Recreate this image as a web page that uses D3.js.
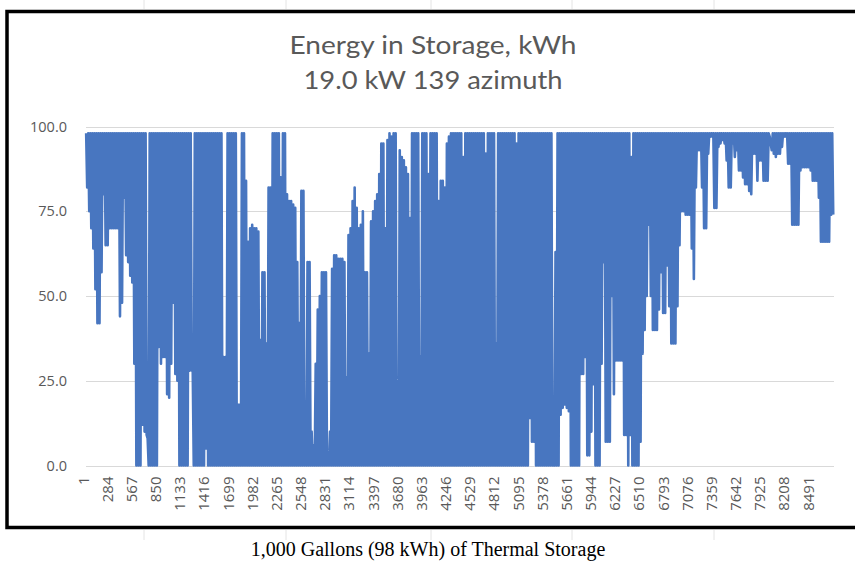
<!DOCTYPE html>
<html>
<head>
<meta charset="utf-8">
<script src="https://cdn.jsdelivr.net/npm/d3@7"></script>
<style>
  html, body { margin: 0; padding: 0; background: #ffffff; }
  svg { display: block; }
</style>
</head>
<body>
<svg id="chart" width="855" height="562"></svg>
<script>
// Hourly simulation, one year (8760 h), storage holds up to 98 kWh.
// Each day is summarised by its lowest and highest energy in storage (kWh).
const minKwh = [
  82, 75, 70, 64, 52, 42, 42, 57, 80, 65,
  65, 70, 70, 70, 70, 70, 44, 48, 79, 62,
  60, 56, 54, 30, 0, 0, 0, 12, 10, 9,
  0, 0, 0, 0, 0, 35, 30, 32, 32, 21,
  20, 30, 48, 27, 25, 0, 0, 0, 0, 0,
  28, 28, 0, 0, 0, 0, 0, 0, 5, 0,
  0, 0, 0, 0, 0, 0, 0, 0, 0, 0,
  0, 0, 0, 0, 0, 0, 0, 0, 0, 0,
  0, 0, 0, 0, 0, 0, 0, 0, 0, 0,
  0, 0, 0, 0, 0, 0, 0, 0, 0, 0,
  0, 0, 0, 0, 0, 0, 0, 0, 0, 0,
  0, 0, 0, 0, 0, 0, 0, 0, 0, 0,
  0, 0, 0, 0, 0, 0, 0, 0, 0, 0,
  0, 0, 0, 0, 0, 0, 0, 0, 0, 0,
  0, 0, 0, 0, 0, 0, 0, 0, 0, 0,
  0, 0, 0, 0, 0, 0, 0, 0, 0, 0,
  0, 0, 0, 0, 0, 0, 0, 0, 0, 0,
  0, 0, 0, 0, 0, 0, 0, 0, 0, 0,
  0, 0, 0, 0, 0, 0, 0, 0, 0, 0,
  0, 0, 0, 0, 0, 0, 0, 0, 0, 0,
  0, 0, 0, 0, 0, 0, 0, 0, 0, 0,
  0, 0, 0, 0, 0, 0, 14, 7, 7, 0,
  0, 0, 0, 0, 0, 0, 0, 0, 0, 0,
  0, 15, 17, 18, 17, 16, 0, 0, 0, 0,
  0, 27, 27, 32, 3, 3, 10, 24, 0, 0,
  0, 30, 60, 7, 7, 7, 50, 21, 31, 31,
  31, 31, 9, 9, 0, 9, 0, 0, 0, 0,
  7, 33, 40, 50, 71, 50, 40, 40, 40, 46,
  57, 45, 45, 59, 47, 36, 36, 36, 47, 65,
  75, 75, 74, 74, 74, 64, 55, 82, 93, 93,
  82, 70, 70, 92, 97, 97, 76, 76, 94, 95,
  96, 95, 90, 82, 82, 95, 91, 93, 87, 87,
  85, 83, 83, 81, 80, 92, 92, 84, 90, 90,
  84, 84, 84, 97, 93, 92, 91, 92, 92, 94,
  97, 97, 89, 89, 71, 71, 71, 71, 87, 88,
  88, 88, 88, 87, 84, 84, 84, 79, 66, 66,
  66, 66, 66, 74, 74
];

const maxKwh = [
  98, 98, 98, 98, 98, 98, 98, 98, 98, 98,
  98, 98, 98, 98, 98, 98, 98, 98, 98, 98,
  98, 98, 98, 98, 98, 98, 98, 98, 98, 98,
  8, 98, 98, 98, 98, 98, 98, 98, 98, 98,
  98, 98, 98, 98, 98, 98, 98, 98, 98, 98,
  98, 98, 28, 98, 98, 98, 98, 98, 98, 98,
  98, 98, 98, 98, 98, 98, 98, 32, 32, 98,
  98, 98, 98, 98, 18, 18, 98, 98, 84, 66,
  70, 71, 70, 70, 69, 37, 57, 57, 36, 82,
  82, 98, 98, 98, 98, 85, 98, 98, 80, 78,
  78, 77, 76, 60, 42, 81, 81, 5, 60, 60,
  10, 6, 30, 46, 50, 57, 57, 57, 2, 10,
  58, 62, 62, 61, 61, 61, 60, 26, 68, 70,
  78, 82, 76, 70, 71, 75, 57, 57, 33, 72,
  75, 78, 80, 86, 95, 95, 70, 96, 98, 97,
  98, 98, 3, 93, 91, 90, 88, 86, 73, 98,
  98, 98, 98, 32, 98, 98, 98, 86, 98, 98,
  98, 98, 78, 84, 84, 82, 95, 97, 98, 98,
  98, 98, 98, 98, 91, 98, 98, 98, 98, 98,
  98, 98, 98, 98, 98, 92, 98, 98, 98, 98,
  36, 98, 98, 98, 98, 98, 98, 98, 98, 98,
  95, 98, 98, 98, 98, 98, 98, 98, 98, 98,
  98, 98, 98, 98, 98, 98, 98, 98, 3, 63,
  98, 98, 98, 98, 98, 98, 98, 98, 98, 98,
  98, 98, 98, 98, 98, 98, 98, 98, 98, 98,
  98, 98, 98, 98, 98, 98, 98, 98, 98, 98,
  98, 98, 98, 98, 98, 98, 91, 98, 98, 98,
  98, 98, 98, 98, 98, 98, 98, 98, 98, 98,
  98, 98, 98, 98, 98, 98, 98, 98, 98, 98,
  98, 98, 98, 98, 98, 98, 98, 98, 98, 98,
  98, 98, 98, 98, 98, 98, 98, 98, 98, 98,
  98, 98, 98, 98, 98, 98, 98, 98, 98, 98,
  98, 98, 98, 98, 98, 98, 98, 98, 98, 98,
  98, 98, 98, 98, 95, 98, 98, 98, 98, 98,
  98, 98, 98, 98, 98, 98, 98, 98, 98, 98,
  98, 98, 98, 98, 98, 98, 98, 98, 98, 98,
  98, 98, 98, 98, 98
];

// Hour-of-year category labels shown on the x axis (every 283rd hour)
const hourLabels = [1, 284, 567, 850, 1133, 1416, 1699, 1982, 2265, 2548, 2831,
  3114, 3397, 3680, 3963, 4246, 4529, 4812, 5095, 5378, 5661, 5944, 6227,
  6510, 6793, 7076, 7359, 7642, 7925, 8208, 8491];
const valueTicks = [0, 25, 50, 75, 100];

const titleLines = ["Energy in Storage, kWh", "19.0 kW 139 azimuth"];
const caption = "1,000 Gallons (98 kWh) of Thermal Storage";

// Build the hourly trace: highest point in the afternoon, lowest overnight
const series = [];
minKwh.forEach((lo, d) => {
  series.push({ hour: d * 24 + 3, kwh: maxKwh[d] });
  series.push({ hour: d * 24 + 15, kwh: lo });
});

const svg = d3.select("#chart");
const plot = { left: 86, right: 834, top: 126.5, bottom: 465.5 };

const x = d3.scaleLinear().domain([1, 8760]).range([plot.left, plot.right]);
const y = d3.scaleLinear().domain([0, 100]).range([plot.bottom, plot.top]);

const grey = "#595959";

// faint page rules around the framed chart
const ruleX = [144, 286, 431, 572, 714];
svg.append("g").selectAll("line").data(ruleX).join("line")
  .attr("x1", d => d).attr("x2", d => d).attr("y1", 0).attr("y2", 9)
  .attr("stroke", "#e4e4e4").attr("stroke-width", 1);
svg.append("g").selectAll("line").data(ruleX).join("line")
  .attr("x1", d => d).attr("x2", d => d).attr("y1", 530).attr("y2", 540)
  .attr("stroke", "#e4e4e4").attr("stroke-width", 1);

// horizontal gridlines
svg.append("g").selectAll("line").data(valueTicks).join("line")
  .attr("x1", plot.left).attr("x2", plot.right)
  .attr("y1", d => Math.round(y(d)) + 0.5).attr("y2", d => Math.round(y(d)) + 0.5)
  .attr("stroke", "#d9d9d9").attr("stroke-width", 1);

// value axis labels
const yAxis = d3.axisLeft(y).tickValues(valueTicks).tickFormat(d3.format(".1f")).tickSize(0).tickPadding(0);
const yg = svg.append("g").attr("transform", "translate(67,0)").call(yAxis);
yg.select(".domain").remove();
yg.selectAll("text")
  .attr("fill", grey).attr("font-family", "'Open Sans', sans-serif").attr("font-size", 14.5);

// category axis labels, rotated
const xAxis = d3.axisBottom(x).tickValues(hourLabels).tickFormat(d3.format("d")).tickSize(0).tickPadding(0);
const xg = svg.append("g").attr("transform", `translate(0,${plot.bottom})`).call(xAxis);
xg.select(".domain").remove();
xg.selectAll("text")
  .attr("fill", grey).attr("font-family", "'Open Sans', sans-serif").attr("font-size", 15)
  .attr("text-anchor", "end").attr("dy", null).attr("y", null)
  .attr("dominant-baseline", "central")
  .attr("transform", "translate(-4,11) rotate(-90)");

// storage trace
const line = d3.line().x(d => x(d.hour)).y(d => y(d.kwh));
svg.append("path").datum(series)
  .attr("d", line)
  .attr("fill", "none")
  .attr("stroke", "#4876c0")
  .attr("stroke-width", 2.6)
  .attr("stroke-linejoin", "round");

// chart title
svg.append("g").selectAll("text").data(titleLines).join("text")
  .attr("x", 433).attr("y", (d, i) => 54 + i * 35)
  .attr("text-anchor", "middle")
  .attr("fill", grey).attr("font-family", "Lato, sans-serif").attr("font-size", 25)
  .attr("textLength", (d, i) => i === 0 ? 287 : 259)
  .attr("lengthAdjust", "spacingAndGlyphs")
  .text(d => d);

// frame
svg.append("rect")
  .attr("x", 7).attr("y", 11.5).attr("width", 870).attr("height", 516)
  .attr("fill", "none").attr("stroke", "#000").attr("stroke-width", 3.5);

// caption under the frame
svg.append("text")
  .attr("x", 428).attr("y", 556)
  .attr("text-anchor", "middle")
  .attr("font-family", "'Liberation Serif', 'Times New Roman', serif")
  .attr("font-size", 20).attr("fill", "#000")
  .text(caption);
</script>
</body>
</html>
